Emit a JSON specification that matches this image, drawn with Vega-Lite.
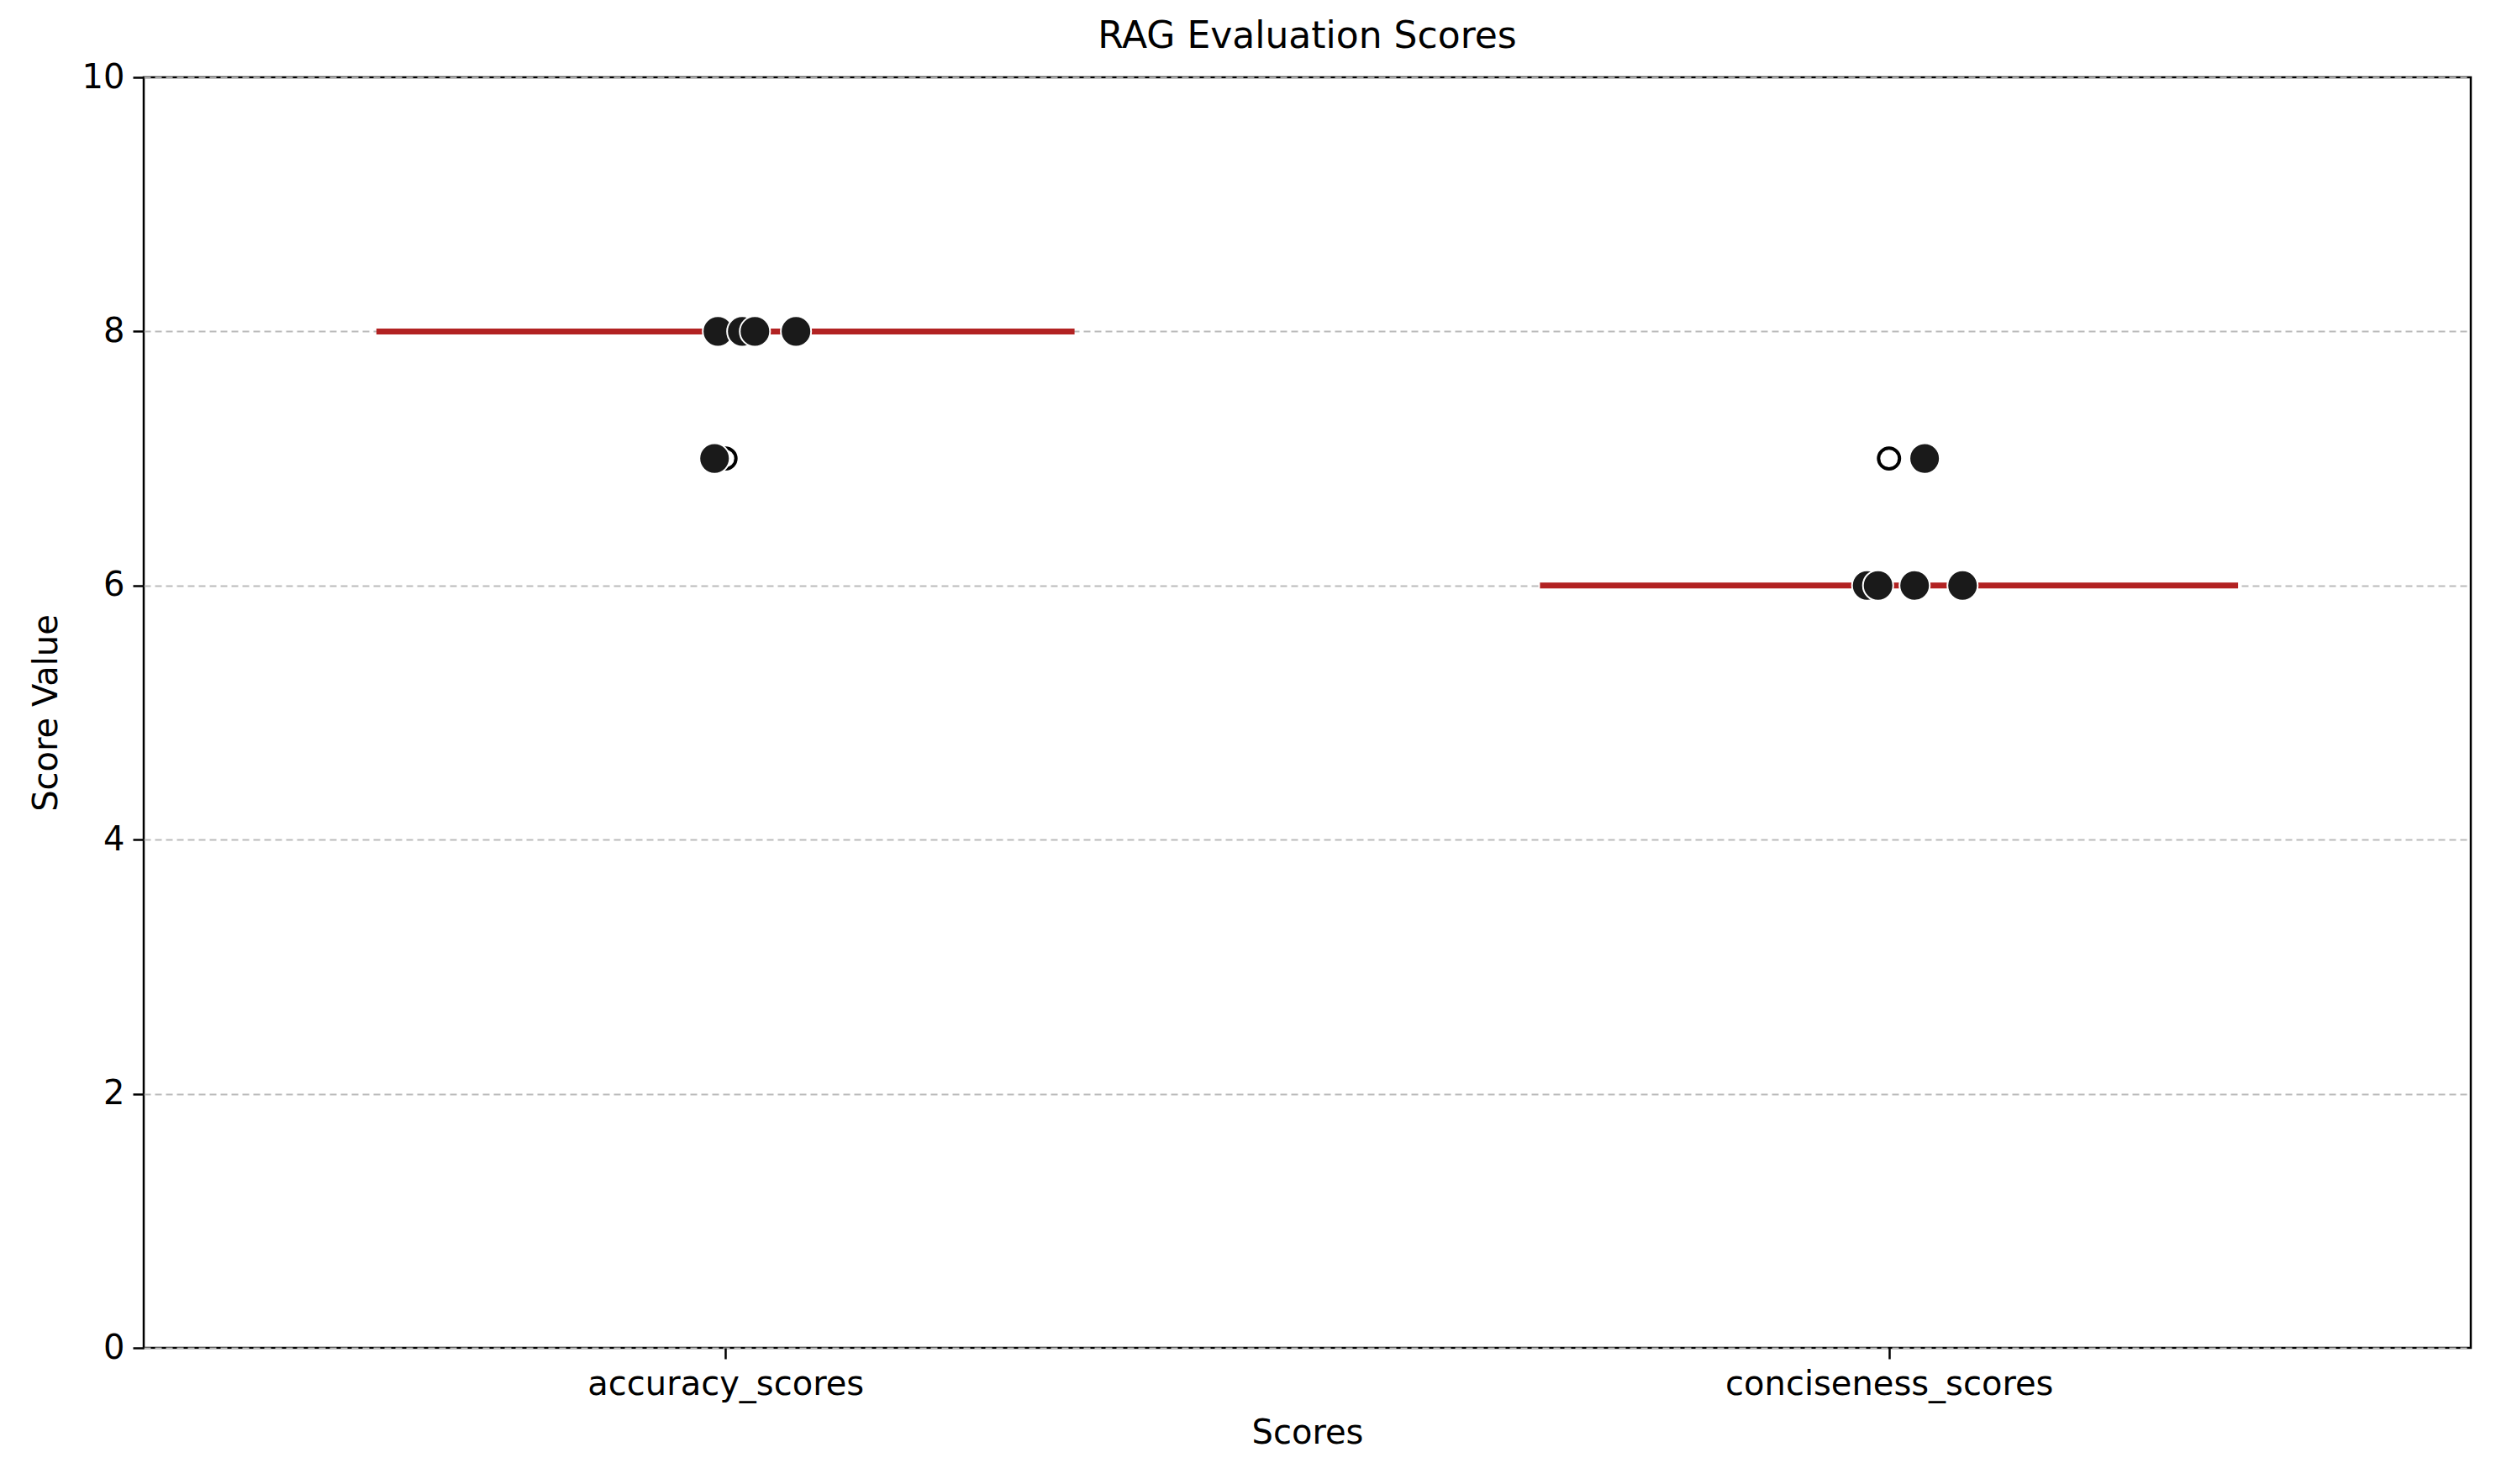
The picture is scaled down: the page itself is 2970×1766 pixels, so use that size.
{
  "$schema": "https://vega.github.io/schema/vega-lite/v6.json",
  "width": 2769,
  "height": 1512,
  "autosize": {"type": "none"},
  "padding": {"left": 171, "top": 92, "right": 30, "bottom": 162},
  "background": "white",
  "config": {
    "font": "DejaVu Sans",
    "view": {"stroke": "black", "strokeWidth": 2.5},
    "axis": {"labelFont": "DejaVu Sans", "titleFont": "DejaVu Sans", "labelFontSize": 40, "titleFontSize": 40, "titleFontWeight": "normal", "labelColor": "black", "titleColor": "black", "domain": false, "tickColor": "black", "tickWidth": 2.5, "tickSize": 13, "labelPadding": 10, "labelLimit": 0}
  },
  "title": {"text": "RAG Evaluation Scores", "fontSize": 44, "fontWeight": "normal", "font": "DejaVu Sans", "offset": 6, "color": "black"},
  "datasets": {
    "points": [
      {"score": "accuracy_scores", "pos": 0.4935, "value": 8},
      {"score": "accuracy_scores", "pos": 0.5144, "value": 8},
      {"score": "accuracy_scores", "pos": 0.5253, "value": 8},
      {"score": "accuracy_scores", "pos": 0.5606, "value": 8},
      {"score": "accuracy_scores", "pos": 0.4906, "value": 7},
      {"score": "conciseness_scores", "pos": 1.5306, "value": 7},
      {"score": "conciseness_scores", "pos": 1.4812, "value": 6},
      {"score": "conciseness_scores", "pos": 1.4906, "value": 6},
      {"score": "conciseness_scores", "pos": 1.5220, "value": 6},
      {"score": "conciseness_scores", "pos": 1.5632, "value": 6}
    ],
    "boxes": [
      {"score": "accuracy_scores", "x1": 0.2, "x2": 0.8, "median": 8, "center": 0.5, "outlier": 7},
      {"score": "conciseness_scores", "x1": 1.2, "x2": 1.8, "median": 6, "center": 1.5, "outlier": 7}
    ]
  },
  "layer": [
    {
      "data": {"name": "boxes"},
      "mark": {"type": "rule", "color": "#b22222", "strokeWidth": 7},
      "encoding": {
        "x": {"field": "x1", "type": "quantitative", "scale": {"domain": [0, 2], "nice": false, "zero": false},
          "title": "Scores",
          "axis": {"values": [0.5, 1.5], "grid": false, "labelExpr": "datum.value < 1 ? 'accuracy_scores' : 'conciseness_scores'", "titlePadding": 18}},
        "x2": {"field": "x2"},
        "y": {"field": "median", "type": "quantitative", "scale": {"domain": [0, 10], "nice": false},
          "title": "Score Value",
          "axis": {"values": [0, 2, 4, 6, 8, 10], "format": "d", "grid": true, "gridDash": [8, 5], "gridColor": "#bbbbbb", "gridWidth": 2, "titlePadding": 22}}
      }
    },
    {
      "data": {"name": "boxes"},
      "mark": {"type": "point", "shape": "circle", "filled": false, "stroke": "black", "strokeWidth": 4, "size": 620, "opacity": 1},
      "encoding": {
        "x": {"field": "center", "type": "quantitative"},
        "y": {"field": "outlier", "type": "quantitative"}
      }
    },
    {
      "data": {"name": "points"},
      "mark": {"type": "point", "shape": "circle", "filled": true, "fill": "#1a1a1a", "stroke": "white", "strokeWidth": 2, "opacity": 1, "size": 1300},
      "encoding": {
        "x": {"field": "pos", "type": "quantitative"},
        "y": {"field": "value", "type": "quantitative"}
      }
    }
  ]
}
